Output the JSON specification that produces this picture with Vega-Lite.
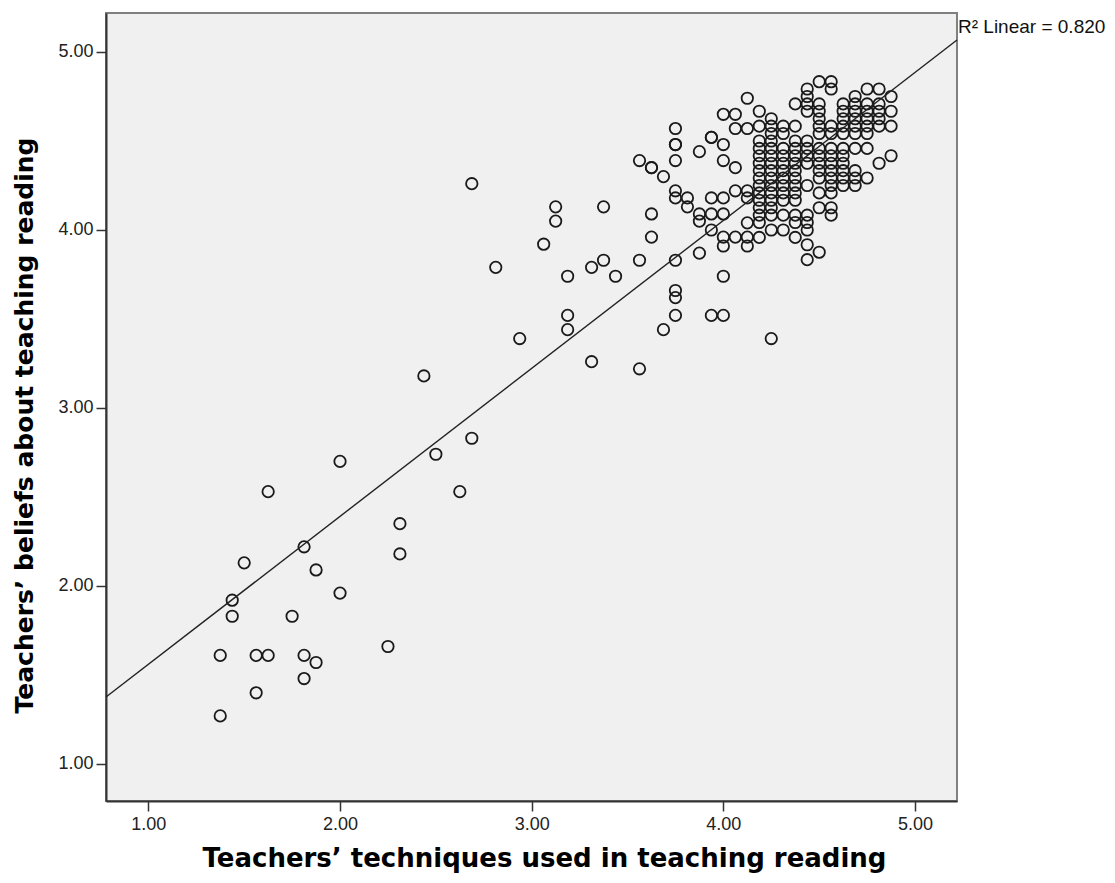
{
  "$schema": "https://vega.github.io/schema/vega-lite/v6.json",
  "width": 851,
  "height": 788,
  "autosize": "none",
  "padding": {"left": 106, "top": 13, "right": 158, "bottom": 82},
  "background": "white",
  "config": {
    "view": {"fill": "#F0F0F0", "stroke": "#808080", "strokeWidth": 2},
    "axis": {
      "grid": false,
      "tickSize": 10,
      "tickWidth": 1.5,
      "tickColor": "#333333",
      "domainColor": "#333333",
      "domainWidth": 2,
      "labelFont": "Liberation Sans",
      "labelFontSize": 18,
      "labelColor": "#222222",
      "titleFont": "DejaVu Sans",
      "titleFontWeight": "bold",
      "titleColor": "#000000"
    }
  },
  "datasets": {
    "pts": [
      {"t":1.375,"b":1.27},{"t":1.375,"b":1.61},{"t":1.5625,"b":1.40},{"t":1.5625,"b":1.61},{"t":1.625,"b":1.61},
      {"t":1.4375,"b":1.83},{"t":1.4375,"b":1.92},{"t":1.5,"b":2.13},{"t":1.625,"b":2.53},{"t":1.75,"b":1.83},
      {"t":1.8125,"b":2.22},{"t":1.875,"b":2.09},{"t":2.0,"b":1.96},{"t":1.8125,"b":1.61},{"t":1.875,"b":1.57},
      {"t":1.8125,"b":1.48},{"t":2.25,"b":1.66},{"t":2.0,"b":2.70},{"t":2.3125,"b":2.35},{"t":2.3125,"b":2.18},
      {"t":2.4375,"b":3.18},{"t":2.5,"b":2.74},{"t":2.625,"b":2.53},{"t":2.6875,"b":2.83},{"t":2.6875,"b":4.26},
      {"t":2.8125,"b":3.79},{"t":2.9375,"b":3.39},{"t":3.0625,"b":3.92},{"t":3.125,"b":4.13},{"t":3.125,"b":4.05},
      {"t":3.1875,"b":3.74},{"t":3.1875,"b":3.52},{"t":3.1875,"b":3.44},{"t":3.3125,"b":3.79},{"t":3.3125,"b":3.26},
      {"t":3.375,"b":3.83},{"t":3.375,"b":4.13},{"t":3.4375,"b":3.74},{"t":3.5625,"b":3.22},{"t":3.5625,"b":3.83},
      {"t":3.5625,"b":4.39},{"t":3.625,"b":4.35},{"t":3.625,"b":4.35},{"t":3.625,"b":4.09},{"t":3.625,"b":3.96},
      {"t":3.6875,"b":4.30},{"t":3.6875,"b":3.44},{"t":3.75,"b":4.57},{"t":3.75,"b":4.48},{"t":3.75,"b":4.48},
      {"t":3.75,"b":4.39},{"t":3.75,"b":4.22},{"t":3.75,"b":4.18},{"t":3.75,"b":3.83},{"t":3.75,"b":3.66},
      {"t":3.75,"b":3.62},{"t":3.75,"b":3.52},{"t":3.8125,"b":4.18},{"t":3.8125,"b":4.13},{"t":3.875,"b":4.44},
      {"t":3.875,"b":4.09},{"t":3.875,"b":4.05},{"t":3.875,"b":3.87},{"t":3.9375,"b":4.52},{"t":3.9375,"b":4.52},
      {"t":3.9375,"b":4.18},{"t":3.9375,"b":4.09},{"t":3.9375,"b":4.0},{"t":3.9375,"b":3.52},{"t":4.0,"b":4.65},
      {"t":4.0,"b":4.48},{"t":4.0,"b":4.39},{"t":4.0,"b":4.18},{"t":4.0,"b":4.09},{"t":4.0,"b":3.96},
      {"t":4.0,"b":3.91},{"t":4.0,"b":3.74},{"t":4.0,"b":3.52},{"t":4.0625,"b":4.65},{"t":4.0625,"b":4.57},
      {"t":4.0625,"b":4.35},{"t":4.0625,"b":4.22},{"t":4.0625,"b":3.96},{"t":4.125,"b":4.74},{"t":4.125,"b":4.57},
      {"t":4.125,"b":4.22},{"t":4.125,"b":4.18},{"t":4.125,"b":4.04},{"t":4.125,"b":3.96},{"t":4.125,"b":3.91},
      {"t":4.25,"b":3.39},
      {"t":4.1875,"b":4.667},{"t":4.1875,"b":4.583},{"t":4.1875,"b":4.5},{"t":4.1875,"b":4.458},{"t":4.1875,"b":4.417},
      {"t":4.1875,"b":4.375},{"t":4.1875,"b":4.333},{"t":4.1875,"b":4.292},{"t":4.1875,"b":4.25},{"t":4.1875,"b":4.208},
      {"t":4.1875,"b":4.167},{"t":4.1875,"b":4.125},{"t":4.1875,"b":4.083},{"t":4.1875,"b":4.042},{"t":4.1875,"b":3.958},
      {"t":4.25,"b":4.625},{"t":4.25,"b":4.583},{"t":4.25,"b":4.542},{"t":4.25,"b":4.5},{"t":4.25,"b":4.458},
      {"t":4.25,"b":4.417},{"t":4.25,"b":4.375},{"t":4.25,"b":4.333},{"t":4.25,"b":4.292},{"t":4.25,"b":4.25},
      {"t":4.25,"b":4.208},{"t":4.25,"b":4.167},{"t":4.25,"b":4.125},{"t":4.25,"b":4.083},{"t":4.25,"b":4.0},
      {"t":4.3125,"b":4.583},{"t":4.3125,"b":4.542},{"t":4.3125,"b":4.458},{"t":4.3125,"b":4.417},{"t":4.3125,"b":4.375},
      {"t":4.3125,"b":4.333},{"t":4.3125,"b":4.292},{"t":4.3125,"b":4.25},{"t":4.3125,"b":4.208},{"t":4.3125,"b":4.167},
      {"t":4.3125,"b":4.083},{"t":4.3125,"b":4.0},
      {"t":4.375,"b":4.708},{"t":4.375,"b":4.583},{"t":4.375,"b":4.5},{"t":4.375,"b":4.458},{"t":4.375,"b":4.417},
      {"t":4.375,"b":4.375},{"t":4.375,"b":4.333},{"t":4.375,"b":4.292},{"t":4.375,"b":4.25},{"t":4.375,"b":4.208},
      {"t":4.375,"b":4.167},{"t":4.375,"b":4.083},{"t":4.375,"b":4.042},{"t":4.375,"b":3.958},
      {"t":4.4375,"b":4.792},{"t":4.4375,"b":4.75},{"t":4.4375,"b":4.708},{"t":4.4375,"b":4.667},{"t":4.4375,"b":4.5},
      {"t":4.4375,"b":4.458},{"t":4.4375,"b":4.417},{"t":4.4375,"b":4.375},{"t":4.4375,"b":4.25},{"t":4.4375,"b":4.083},
      {"t":4.4375,"b":4.042},{"t":4.4375,"b":4.0},{"t":4.4375,"b":3.917},{"t":4.4375,"b":3.833},
      {"t":4.5,"b":4.833},{"t":4.5,"b":4.708},{"t":4.5,"b":4.667},{"t":4.5,"b":4.625},{"t":4.5,"b":4.583},
      {"t":4.5,"b":4.542},{"t":4.5,"b":4.458},{"t":4.5,"b":4.417},{"t":4.5,"b":4.375},{"t":4.5,"b":4.333},
      {"t":4.5,"b":4.292},{"t":4.5,"b":4.208},{"t":4.5,"b":4.125},{"t":4.5,"b":3.875},
      {"t":4.5625,"b":4.833},{"t":4.5625,"b":4.792},{"t":4.5625,"b":4.583},{"t":4.5625,"b":4.542},{"t":4.5625,"b":4.458},
      {"t":4.5625,"b":4.417},{"t":4.5625,"b":4.375},{"t":4.5625,"b":4.333},{"t":4.5625,"b":4.292},{"t":4.5625,"b":4.25},
      {"t":4.5625,"b":4.208},{"t":4.5625,"b":4.125},{"t":4.5625,"b":4.083},
      {"t":4.625,"b":4.708},{"t":4.625,"b":4.667},{"t":4.625,"b":4.625},{"t":4.625,"b":4.583},{"t":4.625,"b":4.542},
      {"t":4.625,"b":4.458},{"t":4.625,"b":4.417},{"t":4.625,"b":4.375},{"t":4.625,"b":4.333},{"t":4.625,"b":4.292},
      {"t":4.625,"b":4.25},
      {"t":4.6875,"b":4.75},{"t":4.6875,"b":4.708},{"t":4.6875,"b":4.667},{"t":4.6875,"b":4.625},{"t":4.6875,"b":4.583},
      {"t":4.6875,"b":4.542},{"t":4.6875,"b":4.458},{"t":4.6875,"b":4.333},{"t":4.6875,"b":4.292},{"t":4.6875,"b":4.25},
      {"t":4.75,"b":4.792},{"t":4.75,"b":4.708},{"t":4.75,"b":4.667},{"t":4.75,"b":4.625},{"t":4.75,"b":4.583},
      {"t":4.75,"b":4.542},{"t":4.75,"b":4.458},{"t":4.75,"b":4.292},
      {"t":4.8125,"b":4.792},{"t":4.8125,"b":4.708},{"t":4.8125,"b":4.667},{"t":4.8125,"b":4.625},{"t":4.8125,"b":4.583},
      {"t":4.8125,"b":4.375},
      {"t":4.875,"b":4.75},{"t":4.875,"b":4.667},{"t":4.875,"b":4.583},{"t":4.875,"b":4.417}
    ],
    "fit": [
      {"t": 0.779, "b": 1.376},
      {"t": 5.219, "b": 5.067}
    ],
    "lab": [
      {"t": 5.219, "b": 5.14, "label": "R² Linear = 0.820"}
    ]
  },
  "layer": [
    {
      "data": {"name": "pts"},
      "mark": {"type": "point", "shape": "circle", "filled": false, "stroke": "#1a1a1a", "strokeWidth": 1.8, "size": 130, "opacity": 1},
      "encoding": {
        "x": {"field": "t", "type": "quantitative",
              "scale": {"domain": [0.779, 5.219], "nice": false, "zero": false},
              "axis": {"title": "Teachers’ techniques used in teaching reading", "values": [1, 2, 3, 4, 5], "format": ".2f", "labelPadding": 4, "titlePadding": 12, "titleFontSize": 26, "titleX": 438}},
        "y": {"field": "b", "type": "quantitative",
              "scale": {"domain": [0.792, 5.219], "nice": false, "zero": false},
              "axis": {"title": "Teachers’ beliefs about teaching reading", "values": [1, 2, 3, 4, 5], "format": ".2f", "labelPadding": 3, "titlePadding": 20, "titleFontSize": 25, "titleY": 412}}
      }
    },
    {
      "data": {"name": "fit"},
      "mark": {"type": "line", "color": "#222222", "strokeWidth": 1.4},
      "encoding": {
        "x": {"field": "t", "type": "quantitative"},
        "y": {"field": "b", "type": "quantitative"}
      }
    },
    {
      "data": {"name": "lab"},
      "mark": {"type": "text", "align": "left", "baseline": "middle", "dx": 1, "font": "Liberation Sans", "fontSize": 19, "color": "#111111"},
      "encoding": {
        "x": {"field": "t", "type": "quantitative"},
        "y": {"field": "b", "type": "quantitative"},
        "text": {"field": "label"}
      }
    }
  ]
}
